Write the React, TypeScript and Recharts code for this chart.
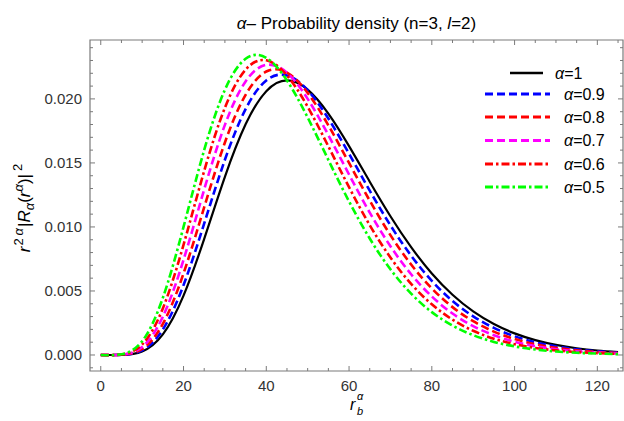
import React from 'react';
import { LineChart, Line, XAxis, YAxis, ReferenceArea, Legend } from 'recharts';

// r values (sampled every 5 units)
const radius = [0, 5, 10, 15, 20, 25, 30, 35, 40, 45, 50, 55, 60, 65, 70, 75, 80, 85, 90, 95, 100, 105, 110, 115, 120, 125];

// r^2a |R_a(r^a)|^2, one array per alpha
const alpha10 = [0, 0.00001, 0.000275, 0.001607, 0.004636, 0.009073, 0.013915, 0.018014, 0.020607, 0.02145, 0.020723, 0.018852, 0.016313, 0.013535, 0.010837, 0.008421, 0.006369, 0.004704, 0.003402, 0.002417, 0.001688, 0.001161, 0.000788, 0.000528, 0.00035, 0.00023];
const alpha09 = [0, 0.000012, 0.000364, 0.001985, 0.005455, 0.010273, 0.015247, 0.019204, 0.021444, 0.021836, 0.020682, 0.018466, 0.015718, 0.012833, 0.010124, 0.007757, 0.005786, 0.004222, 0.003018, 0.002118, 0.001461, 0.000994, 0.000668, 0.000443, 0.000291, 0.000189];
const alpha08 = [0, 0.000018, 0.000475, 0.002428, 0.006366, 0.011542, 0.016595, 0.02032, 0.022142, 0.022054, 0.02047, 0.017939, 0.014997, 0.012053, 0.009361, 0.007064, 0.005198, 0.003739, 0.002638, 0.001828, 0.001248, 0.000839, 0.000557, 0.000366, 0.000237, 0.000153];
const alpha07 = [0, 0.000027, 0.000626, 0.002985, 0.007425, 0.012932, 0.01797, 0.021365, 0.022662, 0.022036, 0.020004, 0.017173, 0.014096, 0.01112, 0.008494, 0.006305, 0.004568, 0.003236, 0.002252, 0.00154, 0.001036, 0.000688, 0.000451, 0.000292, 0.000188, 0.000119];
const alpha06 = [0, 0.000039, 0.000815, 0.003636, 0.008603, 0.014382, 0.019312, 0.022284, 0.023015, 0.021833, 0.019386, 0.016294, 0.013103, 0.010142, 0.00761, 0.005553, 0.003958, 0.00276, 0.001889, 0.001272, 0.000846, 0.000553, 0.000358, 0.000229, 0.000145, 0.000091];
const alpha05 = [0, 0.000058, 0.001076, 0.004458, 0.01, 0.016012, 0.020712, 0.023135, 0.023208, 0.021438, 0.01855, 0.015238, 0.011992, 0.009097, 0.00669, 0.004791, 0.00335, 0.002297, 0.001547, 0.001024, 0.000668, 0.000431, 0.000274, 0.000173, 0.000108, 0.000067];

// tick marks
const xTicks = [0, 5, 10, 15, 20, 25, 30, 35, 40, 45, 50, 55, 60, 65, 70, 75, 80, 85, 90, 95, 100, 105, 110, 115, 120, 125];
const xMajor = [0, 20, 40, 60, 80, 100, 120];
const yTicks = [-0.001, 0, 0.001, 0.002, 0.003, 0.004, 0.005, 0.006, 0.007, 0.008, 0.009, 0.01, 0.011, 0.012, 0.013, 0.014, 0.015, 0.016, 0.017, 0.018, 0.019, 0.02, 0.021, 0.022, 0.023, 0.024];
const yMajor = ['0.000', '0.005', '0.010', '0.015', '0.020'];

const X_DOMAIN = [-2.6, 126.2];
const Y_DOMAIN = [-0.00125, 0.0246];
const PLOT = { left: 90, right: 623, top: 40, bottom: 371 };
const FONT = '"Liberation Sans", Arial, sans-serif';
const FRAME = '#7a7a7a';
const TICK_TEXT = '#333';

const series = [
  { key: 'a10', label: '1', color: '#000000', dash: undefined, width: 2.2, values: alpha10 },
  { key: 'a09', label: '0.9', color: '#0000ff', dash: '8 4', width: 2.6, values: alpha09 },
  { key: 'a08', label: '0.8', color: '#ff0000', dash: '8 4', width: 2.6, values: alpha08 },
  { key: 'a07', label: '0.7', color: '#ff00ff', dash: '8 4', width: 2.6, values: alpha07 },
  { key: 'a06', label: '0.6', color: '#ff0000', dash: '8 3 2.5 3', width: 2.6, values: alpha06 },
  { key: 'a05', label: '0.5', color: '#00ff00', dash: '8 3 2.5 3', width: 2.6, values: alpha05 },
];

const rows = radius.map((r, i) => {
  const row: Record<string, number> = { r };
  series.forEach(s => { row[s.key] = s.values[i]; });
  return row;
});

const XTick = (props: any) => {
  const { x, payload } = props;
  const v = payload.value;
  const major = xMajor.includes(v);
  const len = major ? 5 : 3;
  return (
    <g>
      <line x1={x} x2={x} y1={PLOT.bottom} y2={PLOT.bottom - len} stroke={FRAME} />
      <line x1={x} x2={x} y1={PLOT.top} y2={PLOT.top + len} stroke={FRAME} />
      {major && (
        <text x={x} y={391} textAnchor="middle" fontSize={15} fill={TICK_TEXT} fontFamily={FONT}>{v}</text>
      )}
    </g>
  );
};

const YTick = (props: any) => {
  const { y, payload } = props;
  const txt = payload.value.toFixed(3);
  const major = yMajor.includes(txt);
  const len = major ? 5 : 3;
  return (
    <g>
      <line x1={PLOT.left} x2={PLOT.left + len} y1={y} y2={y} stroke={FRAME} />
      <line x1={PLOT.right} x2={PLOT.right - len} y1={y} y2={y} stroke={FRAME} />
      {major && (
        <text x={82} y={y + 5.3} textAnchor="end" fontSize={15} fill={TICK_TEXT} fontFamily={FONT}>{txt}</text>
      )}
    </g>
  );
};

// r with subscript b and superscript alpha stacked
const XLabel = () => (
  <g fontFamily={FONT} fill="#000" fontStyle="italic">
    <text x={350} y={410} fontSize={16}>r</text>
    <text x={357} y={400} fontSize={11}>α</text>
    <text x={357} y={415} fontSize={11}>b</text>
  </g>
);

const YLabel = () => (
  <text transform="rotate(-90, 30, 208)" x={30} y={208} textAnchor="middle" fontSize={17} fontFamily={FONT} fill="#000">
    <tspan fontStyle="italic">r</tspan>
    <tspan fontSize={13} dy={-7} dx={1}>2</tspan>
    <tspan fontSize={13} fontStyle="italic" dx={3}>α</tspan>
    <tspan dy={7} dx={1}>|</tspan>
    <tspan fontStyle="italic">R</tspan>
    <tspan fontSize={13} fontStyle="italic" dy={4}>α</tspan>
    <tspan dy={-4}>(</tspan>
    <tspan fontStyle="italic">r</tspan>
    <tspan fontSize={13} fontStyle="italic" dy={-7}>α</tspan>
    <tspan dy={7}>)</tspan>
    <tspan>|</tspan>
    <tspan fontSize={13} dy={-8} dx={3}>2</tspan>
  </text>
);

const legendRows = [13, 34, 57, 80.5, 104, 127];

const renderLegend = () => (
  <svg width={164} height={140} style={{ overflow: 'visible' }}>
    {series.map((s, i) => {
      const y = legendRows[i];
      const first = i === 0;
      return (
        <g key={s.key}>
          <line x1={first ? 50 : 25} x2={first ? 83 : 90} y1={y} y2={y} stroke={s.color} strokeWidth={s.width + 0.3} strokeDasharray={s.dash} />
          <text x={first ? 95 : 104} y={y + 5.5} fontSize={16} fontFamily={FONT} fill="#000">
            <tspan fontStyle="italic">α</tspan>={s.label}
          </text>
        </g>
      );
    })}
  </svg>
);

export default function App() {
  return (
    <div style={{ position: 'absolute', left: 0, top: 0, width: 624, height: 421, background: '#fff', fontFamily: FONT }}>
      <div style={{ position: 'absolute', left: PLOT.left, width: PLOT.right - PLOT.left, top: 14, textAlign: 'center', fontSize: 17, lineHeight: '20px', color: '#000', zIndex: 2 }}>
        <i>α</i>– Probability density (n=3, <i>l</i>=2)
      </div>
      <LineChart width={624} height={421} data={rows} margin={{ top: 40, right: 1, bottom: 0, left: 0 }}>
        <XAxis dataKey="r" type="number" domain={X_DOMAIN} allowDataOverflow ticks={xTicks} interval={0}
          tick={<XTick />} tickLine={false} axisLine={false} height={50} label={XLabel} />
        <YAxis type="number" domain={Y_DOMAIN} allowDataOverflow ticks={yTicks} interval={0}
          tick={<YTick />} tickLine={false} axisLine={false} width={90} label={YLabel} />
        <ReferenceArea x1={X_DOMAIN[0]} x2={X_DOMAIN[1]} y1={Y_DOMAIN[0]} y2={Y_DOMAIN[1]}
          fill="none" stroke={FRAME} strokeWidth={1.2} fillOpacity={0} ifOverflow="visible" />
        {series.map(s => (
          <Line key={s.key} type="natural" dataKey={s.key} stroke={s.color} strokeWidth={s.width}
            strokeDasharray={s.dash} dot={false} activeDot={false} isAnimationActive={false} />
        ))}
        <Legend content={renderLegend} layout="vertical" align="center" verticalAlign="middle"
          wrapperStyle={{ left: 460, top: 60, width: 164, height: 140 }} />
      </LineChart>
    </div>
  );
}
